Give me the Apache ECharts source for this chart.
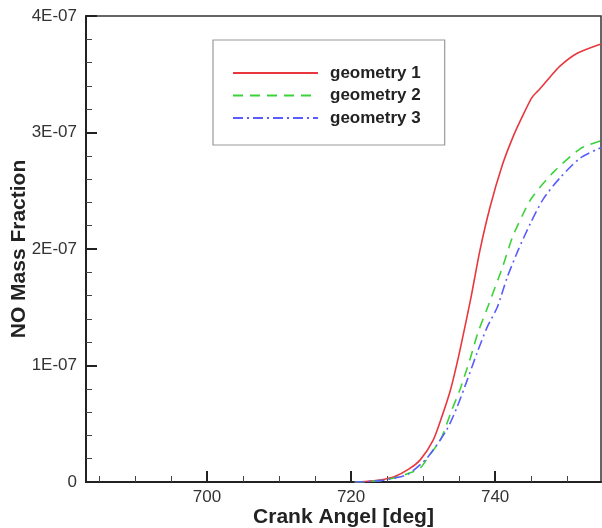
<!DOCTYPE html>
<html>
<head>
<meta charset="utf-8">
<script src="https://cdn.jsdelivr.net/npm/echarts@6/dist/echarts.min.js"></script>
<style>
  html, body { margin: 0; padding: 0; background: #fff; }
  #chart { width: 602px; height: 528px; }
</style>
</head>
<body>
<div id="chart"></div>
<script>
// Crank angle [deg] and NO mass fraction for each geometry
const geom1Angle = [720.5, 722, 724, 726, 728, 729.6, 731.4, 732.6, 733.8, 734.9, 735.8, 736.7, 737.9, 739.3, 741.0, 742.4, 743.8, 745.1, 746.0, 747.4, 749.0, 751.4, 754.7];
const geom1NO    = [0, 0.004e-7, 0.017e-7, 0.045e-7, 0.11e-7, 0.19e-7, 0.36e-7, 0.56e-7, 0.79e-7, 1.07e-7, 1.33e-7, 1.60e-7, 1.99e-7, 2.36e-7, 2.72e-7, 2.95e-7, 3.14e-7, 3.30e-7, 3.36e-7, 3.46e-7, 3.57e-7, 3.68e-7, 3.76e-7];

const geom2Angle = [720.5, 722, 724, 726, 728, 729.6, 731.0, 732.4, 734.0, 735.1, 736.5, 737.6, 738.9, 741.0, 742.4, 743.8, 745.1, 748.1, 751.8, 754.7];
const geom2NO    = [0, 0.003e-7, 0.012e-7, 0.035e-7, 0.075e-7, 0.12e-7, 0.24e-7, 0.36e-7, 0.62e-7, 0.79e-7, 1.05e-7, 1.28e-7, 1.49e-7, 1.84e-7, 2.10e-7, 2.29e-7, 2.44e-7, 2.66e-7, 2.86e-7, 2.93e-7];

const geom3Angle = [720.5, 722, 724, 726, 728, 730.6, 733.3, 734.7, 736.1, 737.5, 738.9, 740.3, 741.7, 743.2, 744.9, 746.7, 749.0, 751.8, 754.7];
const geom3NO    = [0, 0.003e-7, 0.012e-7, 0.033e-7, 0.07e-7, 0.21e-7, 0.45e-7, 0.64e-7, 0.87e-7, 1.11e-7, 1.33e-7, 1.50e-7, 1.76e-7, 1.99e-7, 2.22e-7, 2.43e-7, 2.61e-7, 2.78e-7, 2.87e-7];

const seriesNames = ['geometry 1', 'geometry 2', 'geometry 3'];

// Axis ranges and tick positions
const xMin = 683.2, xMax = 754.7;
const xMajorTicks = [700, 720, 740];
const xMinorTicks = [685, 690, 695, 705, 710, 715, 725, 730, 735, 745, 750];
const yMin = 0, yMax = 4e-7, yStep = 1e-7;
const yTickLabels = ['0', '1E-07', '2E-07', '3E-07', '4E-07'];

const pairs = (xs, ys) => xs.map((x, i) => [x, ys[i]]);

const font = "'Liberation Sans', Arial, Helvetica, sans-serif";
const axisColor = '#222';

const chart = echarts.init(document.getElementById('chart'), null, { renderer: 'canvas' });

chart.setOption({
  backgroundColor: '#fff',
  animation: false,
  textStyle: { fontFamily: font },
  grid: {
    left: 86, top: 16, right: 1, bottom: 46,
    outerBoundsMode: 'none', containLabel: false,
    show: true, borderColor: '#333', borderWidth: 1.5, backgroundColor: 'transparent'
  },
  legend: {
    orient: 'vertical',
    left: 213, top: 40,
    padding: [24, 24, 18, 19],
    borderColor: '#999', borderWidth: 1.2,
    itemWidth: 85, itemHeight: 14, itemGap: 4.5,
    data: seriesNames,
    // line-only legend keys (no marker dot)
    itemStyle: { opacity: 0 },
    textStyle: {
      fontFamily: font, fontSize: 17, fontWeight: 'bold', color: '#222',
      lineHeight: 18, padding: [0, 0, 0, 7]
    }
  },
  xAxis: [
    {
      type: 'value', min: xMin, max: xMax, position: 'bottom',
      name: 'Crank Angel [deg]', nameLocation: 'middle', nameGap: 25, nameMoveOverlap: false,
      nameTextStyle: { fontFamily: font, fontSize: 21, fontWeight: 'bold', color: '#222' },
      axisLine: { show: true, onZero: false, lineStyle: { color: axisColor, width: 2 } },
      axisTick: { show: true, inside: true, length: 11, customValues: xMajorTicks, lineStyle: { color: axisColor, width: 2 } },
      axisLabel: { customValues: xMajorTicks, margin: 7, fontSize: 17, color: '#333', fontFamily: font },
      splitLine: { show: false }
    },
    {
      type: 'value', min: xMin, max: xMax, position: 'bottom',
      axisLine: { show: false },
      axisTick: { show: true, inside: true, length: 6, customValues: xMinorTicks, lineStyle: { color: '#444', width: 1 } },
      axisLabel: { show: false },
      splitLine: { show: false }
    }
  ],
  yAxis: {
    type: 'value', min: yMin, max: yMax, interval: yStep,
    name: 'NO Mass Fraction', nameLocation: 'middle', nameGap: 56, nameMoveOverlap: false,
    nameTextStyle: { fontFamily: font, fontSize: 21, fontWeight: 'bold', color: '#222' },
    axisLine: { show: true, onZero: false, lineStyle: { color: axisColor, width: 2 } },
    axisTick: { show: true, inside: true, length: 11, lineStyle: { color: axisColor, width: 2 } },
    minorTick: { show: true, splitNumber: 5, length: 6, lineStyle: { color: '#444', width: 1 } },
    axisLabel: {
      margin: 9, fontSize: 17, color: '#333', fontFamily: font,
      formatter: (v) => yTickLabels[Math.round(v / yStep)]
    },
    splitLine: { show: false },
    minorSplitLine: { show: false }
  },
  series: [
    {
      name: seriesNames[0], type: 'line', xAxisIndex: 0, symbol: 'none', smooth: 0.25,
      data: pairs(geom1Angle, geom1NO),
      lineStyle: { color: '#e8383e', width: 1.6, type: 'solid' },
      itemStyle: { color: '#e8383e' }
    },
    {
      name: seriesNames[1], type: 'line', xAxisIndex: 0, symbol: 'none', smooth: 0.25,
      data: pairs(geom2Angle, geom2NO),
      lineStyle: { color: '#3ad43a', width: 1.6, type: [10, 7] },
      itemStyle: { color: '#3ad43a' }
    },
    {
      name: seriesNames[2], type: 'line', xAxisIndex: 0, symbol: 'none', smooth: 0.25,
      data: pairs(geom3Angle, geom3NO),
      lineStyle: { color: '#5a5cff', width: 1.6, type: [10, 4, 2, 4] },
      itemStyle: { color: '#5a5cff' }
    }
  ]
});
</script>
</body>
</html>
